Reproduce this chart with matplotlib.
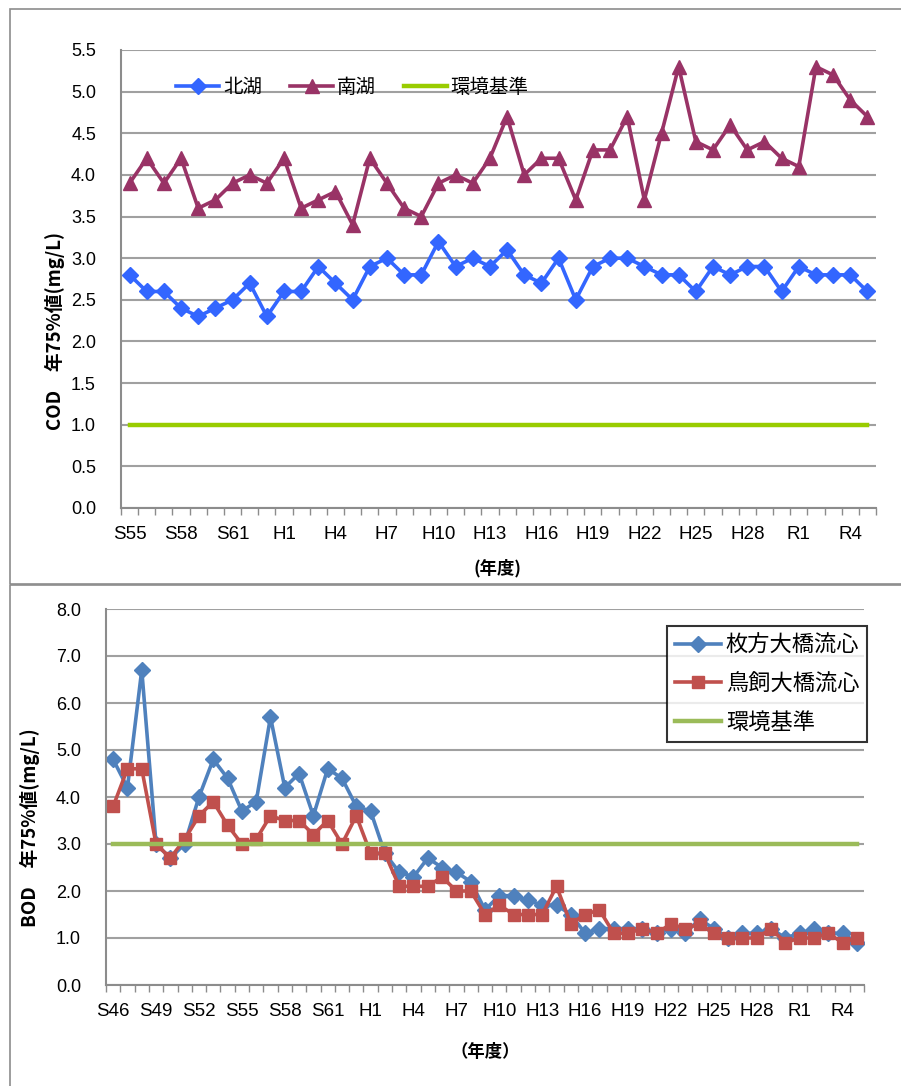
import matplotlib
matplotlib.use("Agg")
import matplotlib.pyplot as plt
from matplotlib.patches import Rectangle

plt.rcParams['font.family'] = ['Noto Sans CJK JP', 'DejaVu Sans']

# ---- top chart: COD (S55 - R5)
cod_years = ['S55', 'S56', 'S57', 'S58', 'S59', 'S60', 'S61', 'S62', 'S63',
             'H1', 'H2', 'H3', 'H4', 'H5', 'H6', 'H7', 'H8', 'H9', 'H10', 'H11',
             'H12', 'H13', 'H14', 'H15', 'H16', 'H17', 'H18', 'H19', 'H20', 'H21',
             'H22', 'H23', 'H24', 'H25', 'H26', 'H27', 'H28', 'H29', 'H30',
             'R1', 'R2', 'R3', 'R4', 'R5']
cod_north = [2.8, 2.6, 2.6, 2.4, 2.3, 2.4, 2.5, 2.7, 2.3, 2.6, 2.6, 2.9, 2.7, 2.5, 2.9,
             3.0, 2.8, 2.8, 3.2, 2.9, 3.0, 2.9, 3.1, 2.8, 2.7, 3.0, 2.5, 2.9, 3.0, 3.0,
             2.9, 2.8, 2.8, 2.6, 2.9, 2.8, 2.9, 2.9, 2.6, 2.9, 2.8, 2.8, 2.8, 2.6]
cod_south = [3.9, 4.2, 3.9, 4.2, 3.6, 3.7, 3.9, 4.0, 3.9, 4.2, 3.6, 3.7, 3.8, 3.4, 4.2,
             3.9, 3.6, 3.5, 3.9, 4.0, 3.9, 4.2, 4.7, 4.0, 4.2, 4.2, 3.7, 4.3, 4.3, 4.7,
             3.7, 4.5, 5.3, 4.4, 4.3, 4.6, 4.3, 4.4, 4.2, 4.1, 5.3, 5.2, 4.9, 4.7]
cod_standard = 1.0

# ---- bottom chart: BOD (S46 - R5)
bod_years = ['S46', 'S47', 'S48', 'S49', 'S50', 'S51', 'S52', 'S53', 'S54'] + cod_years
bod_hirakata = [4.8, 4.2, 6.7, 3.0, 2.7, 3.0, 4.0, 4.8, 4.4, 3.7, 3.9, 5.7, 4.2, 4.5,
                3.6, 4.6, 4.4, 3.8, 3.7, 2.8, 2.4, 2.3, 2.7, 2.5, 2.4, 2.2, 1.6, 1.9,
                1.9, 1.8, 1.7, 1.7, 1.5, 1.1, 1.2, 1.2, 1.2, 1.2, 1.1, 1.2, 1.1, 1.4,
                1.2, 1.0, 1.1, 1.1, 1.2, 1.0, 1.1, 1.2, 1.1, 1.1, 0.9]
bod_torikai = [3.8, 4.6, 4.6, 3.0, 2.7, 3.1, 3.6, 3.9, 3.4, 3.0, 3.1, 3.6, 3.5, 3.5,
               3.2, 3.5, 3.0, 3.6, 2.8, 2.8, 2.1, 2.1, 2.1, 2.3, 2.0, 2.0, 1.5, 1.7,
               1.5, 1.5, 1.5, 2.1, 1.3, 1.5, 1.6, 1.1, 1.1, 1.2, 1.1, 1.3, 1.2, 1.3,
               1.1, 1.0, 1.0, 1.0, 1.2, 0.9, 1.0, 1.0, 1.1, 0.9, 1.0]
bod_standard = 3.0

W, H = 901, 1086
fig = plt.figure(figsize=(W / 100, H / 100), dpi=100)

# outer chart frames
for (x0, y0, x1, y1) in [(10, 9, 905, 584), (10, 585, 905, 1090)]:
    fig.add_artist(Rectangle((x0 / W, 1 - y1 / H), (x1 - x0) / W, (y1 - y0) / H,
                             transform=fig.transFigure, fill=False,
                             edgecolor='#8c8c8c', lw=1.2))

def px_axes(l, t, r, b):
    return fig.add_axes([l / W, 1 - b / H, (r - l) / W, (b - t) / H])

def style_axes(ax, n, labels, ymax, ystep, yfmt):
    ax.set_xlim(-0.5, n - 0.5)
    ax.set_ylim(0, ymax)
    for s in ['top', 'right']:
        ax.spines[s].set_visible(False)
    for s in ['left', 'bottom']:
        ax.spines[s].set_color('#8c8c8c')
        ax.spines[s].set_linewidth(1.5)
    yt = [i * ystep for i in range(int(round(ymax / ystep)) + 1)]
    ax.set_yticks(yt)
    ax.set_yticklabels([yfmt % v for v in yt], fontsize=13, family='Liberation Sans')
    ax.tick_params(axis='y', length=0, pad=18)
    ax.yaxis.grid(True, color='#a0a0a0', lw=1.5)
    ax.set_axisbelow(True)
    pos = list(range(0, n, 3))
    ax.set_xticks(pos)
    ax.set_xticklabels([labels[i] for i in pos], fontsize=13.5, family='Liberation Sans')
    ax.set_xticks([i - 0.5 for i in range(n + 1)], minor=True)
    ax.tick_params(axis='x', which='major', length=0, pad=13)
    ax.tick_params(axis='x', which='minor', length=5, color='#8c8c8c', width=1)

# ---- top
ax1 = px_axes(121, 50, 876, 508)
n1 = len(cod_years)
x1 = list(range(n1))
ax1.plot(x1, cod_north, color='#3366ff', lw=2.6, marker='D', ms=8.5, label='北湖')
ax1.plot(x1, cod_south, color='#993366', lw=2.6, marker='^', ms=9.5, label='南湖')
ax1.plot(x1, [cod_standard] * n1, color='#99cc00', lw=3.2, label='環境基準')
style_axes(ax1, n1, cod_years, 5.5, 0.5, '%.1f')
ax1.legend(loc='upper left', bbox_to_anchor=(0.05, 0.98), ncol=3, frameon=False,
           fontsize=14, handlelength=2.2, columnspacing=1.45, handletextpad=0.2)
fig.text(55 / W, 1 - 331 / H, 'COD　年75%値(mg/L)', rotation=90, ha='center', va='center',
         fontsize=13.5, fontweight='bold')
fig.text(497 / W, 1 - 568 / H, '(年度)', ha='center', va='center',
         fontsize=12.5, fontweight='bold')

# ---- bottom
ax2 = px_axes(106, 609, 864, 985)
n2 = len(bod_years)
x2 = list(range(n2))
ax2.plot(x2, bod_hirakata, color='#4f81bd', lw=2.6, marker='D', ms=8.5, label='枚方大橋流心')
ax2.plot(x2, bod_torikai, color='#c0504d', lw=2.6, marker='s', ms=8.5, label='鳥飼大橋流心')
ax2.plot(x2, [bod_standard] * n2, color='#9bbb59', lw=3.2, label='環境基準')
style_axes(ax2, n2, bod_years, 8.0, 1.0, '%.1f')
leg = ax2.legend(loc='upper right', bbox_to_anchor=(1.004, 0.955), frameon=True, fancybox=False,
                 fontsize=16, handlelength=2.1, handletextpad=0.2, borderpad=0.35,
                 labelspacing=0.7, borderaxespad=0)
leg.get_frame().set_edgecolor('black')
leg.get_frame().set_linewidth(1.5)
fig.text(30 / W, 1 - 828 / H, 'BOD　年75%値(mg/L)', rotation=90, ha='center', va='center',
         fontsize=13.5, fontweight='bold')
fig.text(485 / W, 1 - 1052 / H, '（年度）', ha='center', va='center',
         fontsize=12.5, fontweight='bold')

fig.savefig('out.png', dpi=100)
